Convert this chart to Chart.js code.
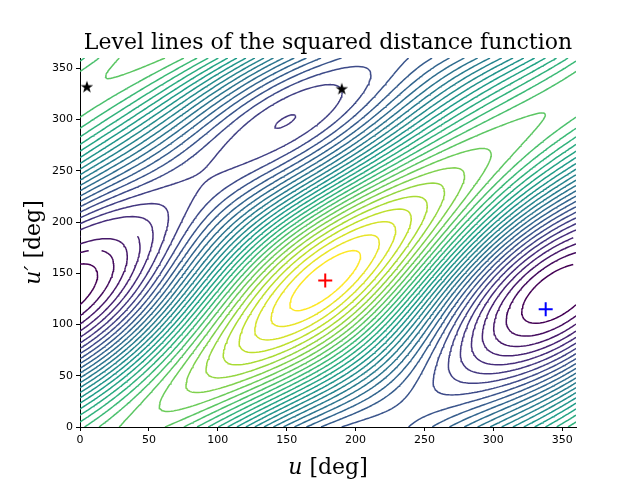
<!DOCTYPE html>
<html><head><meta charset="utf-8">
<script src="https://cdn.jsdelivr.net/npm/chart.js@4"></script>
<style>html,body{margin:0;padding:0;background:#fff}#wrap{width:640px;height:480px}</style>
</head><body><div id="wrap"><canvas id="c" width="640" height="480"></canvas></div>
<script>
// ---- data ----
const xTicks = [0, 50, 100, 150, 200, 250, 300, 350];
const yTicks = [0, 50, 100, 150, 200, 250, 300, 350];
const maxPoint = [178, 143];      // red +
const minPoint = [338, 115];      // blue +
const starPoints = [[5, 332], [190, 330]];
const levelCount = 32;
// field shape parameters
const ridgeDiff = [35];           // u-u' of the main ridge (deg)
const ridgeSum = [321];           // u+u' of the maximum (deg)
const valleySum = [100];          // u+u' of the valley minima (deg)
const weights = [0.05, 0.2, 0.35, 0.0, 0.85];

const D = Math.PI / 180;
function field(u, v) {
  const w = (u - v - ridgeDiff[0]) * D;
  const ph = w + weights[3] * (1 - Math.cos(w));
  const s = (u + v) * D;
  const c = Math.cos(ph);
  const q = (1 - c) + weights[0] * (1 - Math.cos(s - ridgeSum[0] * D))
          + weights[1] * (1 + Math.cos(s - valleySum[0] * D)) * (1 - c) / 2
          + weights[2] * (1 - Math.cos((u - maxPoint[0]) * D));
  return -Math.pow(q, weights[4]);
}
const step = 2, N = 181;
const G = [];
let fmin = Infinity, fmax = -Infinity;
for (let j = 0; j < N; j++) { const row = []; for (let i = 0; i < N; i++) { const f = field(i*step, j*step); row.push(f); fmin = Math.min(fmin, f); fmax = Math.max(fmax, f); } G.push(row); }
const levels = [];
for (let k = 1; k <= levelCount; k++) levels.push(fmin + (fmax - fmin) * k / (levelCount + 1));

function contour(L) {
  const pts = [];
  for (let j = 0; j < N - 1; j++) for (let i = 0; i < N - 1; i++) {
    const a = G[j][i], b = G[j][i+1], c = G[j+1][i+1], d = G[j+1][i];
    const x0 = i*step, y0 = j*step, x1 = x0+step, y1 = y0+step;
    const e = [];
    if ((a < L) !== (b < L)) e.push([x0 + step*(L-a)/(b-a), y0]);
    if ((b < L) !== (c < L)) e.push([x1, y0 + step*(L-b)/(c-b)]);
    if ((d < L) !== (c < L)) e.push([x0 + step*(L-d)/(c-d), y1]);
    if ((a < L) !== (d < L)) e.push([x0, y0 + step*(L-a)/(d-a)]);
    const segs = [];
    if (e.length === 2) segs.push([e[0], e[1]]);
    else if (e.length === 4) { const m = (a+b+c+d)/4; if ((m < L) === (a < L)) { segs.push([e[0], e[1]]); segs.push([e[2], e[3]]); } else { segs.push([e[0], e[3]]); segs.push([e[1], e[2]]); } }
    for (const sg of segs) { pts.push({x: sg[0][0], y: sg[0][1]}, {x: sg[1][0], y: sg[1][1]}, {x: sg[1][0], y: null}); }
  }
  return pts;
}
const vir = [[68,1,84],[72,40,120],[62,74,137],[49,104,142],[38,130,142],[31,158,137],[53,183,121],[109,205,89],[180,222,44],[253,231,37]];
function viridis(t) { const p = t * (vir.length - 1), k = Math.min(Math.floor(p), vir.length - 2), f = p - k; const c = vir[k].map((x, n) => Math.round(x + (vir[k+1][n] - x) * f)); return `rgb(${c})`; }

const datasets = levels.map((L, k) => ({ type: 'line', data: contour(L), borderColor: viridis(k / (levelCount - 1)), borderWidth: 1.5, pointRadius: 0, spanGaps: false, parsing: false, normalized: true, order: 5 }));

const starImg = document.createElement('canvas'); starImg.width = 14; starImg.height = 14;
(function(){ const g = starImg.getContext('2d'); g.beginPath(); for (let k = 0; k < 10; k++) { const r = k % 2 ? 2.6 : 6.5, a = -Math.PI/2 + k*Math.PI/5; g.lineTo(7 + r*Math.cos(a), 7.5 + r*Math.sin(a)); } g.closePath(); g.fillStyle = '#000'; g.fill(); })();

datasets.push({ type: 'scatter', data: [{x: maxPoint[0], y: maxPoint[1]}], pointStyle: 'cross', pointRadius: 7, borderColor: 'red', borderWidth: 2, order: 1 });
datasets.push({ type: 'scatter', data: [{x: minPoint[0], y: minPoint[1]}], pointStyle: 'cross', pointRadius: 7, borderColor: 'blue', borderWidth: 2, order: 1 });
datasets.push({ type: 'scatter', data: starPoints.map(p => ({x: p[0], y: p[1]})), pointStyle: starImg, order: 1 });

const labels = { id: 'labels', afterDraw(ch) {
  const g = ch.ctx, a = ch.chartArea; g.save(); g.fillStyle = '#000'; g.textBaseline = 'alphabetic';
  g.font = '22px "DejaVu Serif", serif'; g.textAlign = 'center';
  g.fillText('Level lines of the squared distance function', (a.left + a.right) / 2, 49);
  function mixed(x, y, rot) {
    g.save(); g.translate(x, y); g.rotate(rot);
    const i1 = 'italic 22px "DejaVu Serif", serif', n1 = '22px "DejaVu Serif", serif';
    const p = [[i1, rot ? 'u′' : 'u'], [n1, ' [deg]']];
    let tw = 0; for (const [f, t] of p) { g.font = f; tw += g.measureText(t).width; }
    let cx = -tw / 2; g.textAlign = 'left';
    for (const [f, t] of p) { g.font = f; g.fillText(t, cx, 0); cx += g.measureText(t).width; }
    g.restore();
  }
  mixed((a.left + a.right) / 2, 474, 0);
  mixed(40, (a.top + a.bottom) / 2, -Math.PI / 2);
  g.restore(); } };

const tickFont = { family: 'DejaVu Sans', size: 11 };
new Chart(document.getElementById('c'), {
  data: { datasets },
  options: {
    responsive: false, animation: false, events: [],
    layout: { padding: { top: 58, right: 64, left: 0, bottom: 0 } },
    plugins: { legend: { display: false }, tooltip: { enabled: false } },
    scales: {
      x: { type: 'linear', min: 0, max: 360, afterBuildTicks: s => { s.ticks = xTicks.map(v => ({value: v})); },
        ticks: { color: '#000', font: tickFont, maxRotation: 0 }, grid: { drawOnChartArea: false, color: '#000', tickLength: 4 }, border: { color: '#000' },
        afterFit: s => { s.height = 53; } },
      y: { type: 'linear', min: 0, max: 360, afterBuildTicks: s => { s.ticks = yTicks.map(v => ({value: v})); },
        ticks: { color: '#000', font: tickFont }, grid: { drawOnChartArea: false, color: '#000', tickLength: 4 }, border: { color: '#000' },
        afterFit: s => { s.width = 80; } }
    }
  },
  plugins: [labels]
});
</script></body></html>
